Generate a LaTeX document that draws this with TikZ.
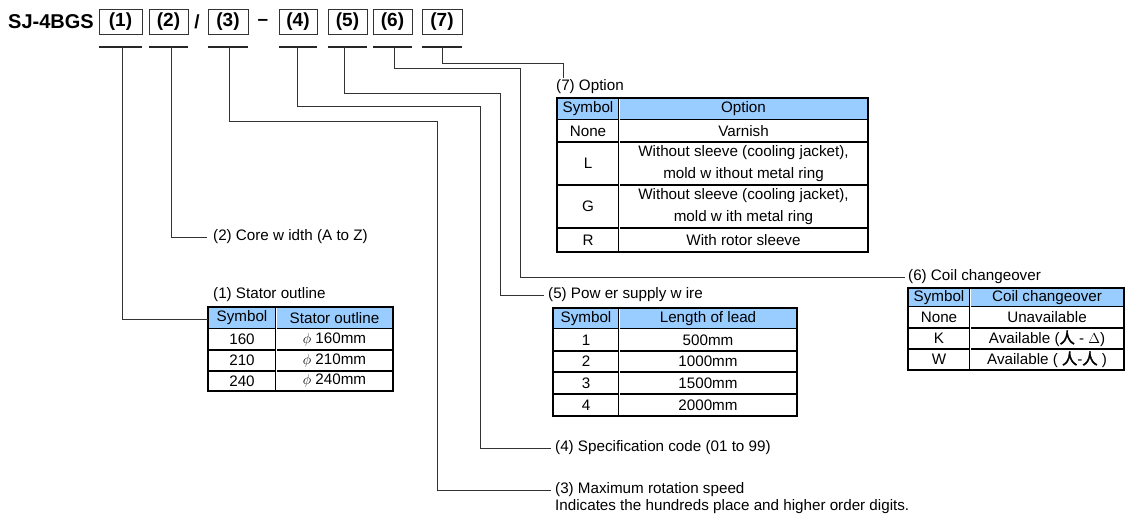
\documentclass[tikz,border=0pt]{standalone}
\usepackage{fontspec}
\setmainfont{Liberation Sans}
\newfontfamily\cjk[FakeBold=2.5]{Noto Sans CJK SC}
\definecolor{hdrblue}{HTML}{99CCFF}
\definecolor{connc}{HTML}{333333}
\newcommand{\Ysym}{{\cjk 人}}
\begin{document}
\begin{tikzpicture}[x=1pt,y=-1pt,
  font=\fontsize{15.2}{18}\selectfont,
  codebox/.style={draw=black!80,line width=0.8pt,minimum height=25pt,inner sep=0pt,font=\bfseries\fontsize{19}{22}\selectfont},
  uline/.style={line width=1.6pt,draw=black!85},
  conn/.style={line width=0.9pt,draw=connc},
  lab/.style={anchor=west,inner sep=0pt},
  cell/.style={inner sep=0pt,align=center},
  tb/.style={line width=1.8pt},
  rowl/.style={line width=1.5pt},
  dbl/.style={line width=0.9pt,double,double distance=1pt},
]
\useasboundingbox (0,0) rectangle (1134,519);

% ---- code line ----
\node[anchor=west,inner sep=0pt,font=\bfseries\fontsize{20}{24}\selectfont] (title) at (8,22) {SJ-4BGS};
\node[codebox,minimum width=43pt] (b1) at (120.5,21.5) {(1)};
\node[codebox,minimum width=39pt] (b2) at (168.5,21.5) {(2)};
\node[inner sep=0pt,font=\bfseries\fontsize{19}{22}\selectfont] (slash) at (197,22) {/};
\node[codebox,minimum width=40pt] (b3) at (228,21.5) {(3)};
\node[inner sep=0pt,font=\bfseries\fontsize{19}{22}\selectfont] (dash) at (263,22) {--};
\node[codebox,minimum width=38pt] (b4) at (298,21.5) {(4)};
\node[codebox,minimum width=39pt] (b5) at (347.5,21.5) {(5)};
\node[codebox,minimum width=39pt] (b6) at (392.5,21.5) {(6)};
\node[codebox,minimum width=40pt] (b7) at (442,21.5) {(7)};

\foreach \b in {b1,b2,b3,b4,b5,b6,b7}
  \draw[uline] ([yshift=-12.5pt]\b.south west) -- ([yshift=-12.5pt]\b.south east);

\coordinate (u1) at (122,47);
\coordinate (u2) at (171,47);
\coordinate (u3) at (229,47);
\coordinate (u4) at (297,47);
\coordinate (u5) at (344,47);
\coordinate (u6) at (394,47);
\coordinate (u7) at (442,47);

% ---- labels ----
\node[lab] (l7) at (556,87) {(7) Option};
\node[lab] (l2) at (213,237) {(2) Core w idth (A to Z)};
\node[lab] (l1) at (213,295) {(1) Stator outline};
\node[lab] (l5) at (548,295) {(5) Pow er supply w ire};
\node[lab] (l6) at (908,277) {(6) Coil changeover};
\node[lab] (l4) at (555,448) {(4) Specification code (01 to 99)};
\node[lab] (l3) at (555,490) {(3) Maximum rotation speed};
\node[lab] (l3b) at (555,507) {Indicates the hundreds place and higher order digits.};

% ---- table (1) ----
\fill[hdrblue] (208,307) rectangle (393,329);
\draw[rowl] (208,350) -- (393,350) (208,371) -- (393,371);
\draw[dbl] (208,329) -- (393,329);
\draw[dbl] (276,307) -- (276,391);
\draw[tb] (208,307) rectangle (393,391);
\coordinate (t1) at (208,319);
\node[cell] (t1a0) at (242,318) {Symbol};
\node[cell] (t1b0) at (334.5,318) {Stator outline};
\node[cell] (t1a1) at (242,339.5) {160};
\node[cell] (t1b1) at (334.5,339.5) {$\phi$\ 160mm};
\node[cell] (t1a2) at (242,360.5) {210};
\node[cell] (t1b2) at (334.5,360.5) {$\phi$\ 210mm};
\node[cell] (t1a3) at (242,381) {240};
\node[cell] (t1b3) at (334.5,381) {$\phi$\ 240mm};

% ---- table (5) ----
\fill[hdrblue] (553,308) rectangle (797,329);
\draw[rowl] (553,351) -- (797,351) (553,372) -- (797,372) (553,394) -- (797,394);
\draw[dbl] (553,329) -- (797,329);
\draw[dbl] (619,308) -- (619,416);
\draw[tb] (553,308) rectangle (797,416);
\node[cell] (t5a0) at (586,318.5) {Symbol};
\node[cell] (t5b0) at (708,318.5) {Length of lead};
\node[cell] (t5a1) at (586,340) {1};
\node[cell] (t5b1) at (708,340) {500mm};
\node[cell] (t5a2) at (586,361.5) {2};
\node[cell] (t5b2) at (708,361.5) {1000mm};
\node[cell] (t5a3) at (586,383) {3};
\node[cell] (t5b3) at (708,383) {1500mm};
\node[cell] (t5a4) at (586,405) {4};
\node[cell] (t5b4) at (708,405) {2000mm};

% ---- table (6) ----
\fill[hdrblue] (908,288) rectangle (1124,307);
\draw[rowl] (908,328) -- (1124,328) (908,349) -- (1124,349);
\draw[dbl] (908,307) -- (1124,307);
\draw[dbl] (970,288) -- (970,370);
\draw[tb] (908,288) rectangle (1124,370);
\node[cell] (t6a0) at (939,297.5) {Symbol};
\node[cell] (t6b0) at (1047,297.5) {Coil changeover};
\node[cell] (t6a1) at (939,317.5) {None};
\node[cell] (t6b1) at (1047,317.5) {Unavailable};
\node[cell] (t6a2) at (939,338.5) {K};
\node[cell] (t6b2) at (1047,338.5) {Available (\Ysym\ - $\Delta$)};
\node[cell] (t6a3) at (939,359.5) {W};
\node[cell] (t6b3) at (1047,359.5) {Available ( \Ysym-\Ysym\ )};

% ---- table (7) ----
\fill[hdrblue] (557,98) rectangle (868,120);
\draw[rowl] (557,142) -- (868,142) (557,185) -- (868,185) (557,228) -- (868,228);
\draw[dbl] (557,120) -- (868,120);
\draw[dbl] (619,98) -- (619,252);
\draw[tb] (557,98) rectangle (868,252);
\node[cell] (t7a0) at (588,109) {Symbol};
\node[cell] (t7b0) at (743.5,109) {Option};
\node[cell] (t7a1) at (588,131) {None};
\node[cell] (t7b1) at (743.5,131) {Varnish};
\node[cell] (t7a2) at (588,163.5) {L};
\node[cell,font=\fontsize{15.2}{21.5}\selectfont] (t7b2) at (743.5,163.5) {Without sleeve (cooling jacket),\\mold w ithout metal ring};
\node[cell] (t7a3) at (588,206.5) {G};
\node[cell,font=\fontsize{15.2}{21.5}\selectfont] (t7b3) at (743.5,206.5) {Without sleeve (cooling jacket),\\mold w ith metal ring};
\node[cell] (t7a4) at (588,240) {R};
\node[cell] (t7b4) at (743.5,240) {With rotor sleeve};

% ---- connectors ----
\coordinate (c3) at (437,121);
\coordinate (c4) at (480,106);
\coordinate (c5) at (500,93);
\coordinate (c6) at (520,68);
\coordinate (c7) at (563,63);
\coordinate (c7e) at (563,78);
\draw[conn] (u1) |- (t1);
\draw[conn] (u2) |- ([xshift=-6pt]l2.west);
\draw[conn] (u3) |- (c3) |- ([xshift=-4pt]l3.west);
\draw[conn] (u4) |- (c4) |- ([xshift=-4pt]l4.west);
\draw[conn] (u5) |- (c5) |- ([xshift=-4pt]l5.west);
\draw[conn] (u6) |- (c6) |- ([xshift=-3pt]l6.west);
\draw[conn] (u7) |- (c7) -- (c7e);
\end{tikzpicture}
\end{document}
